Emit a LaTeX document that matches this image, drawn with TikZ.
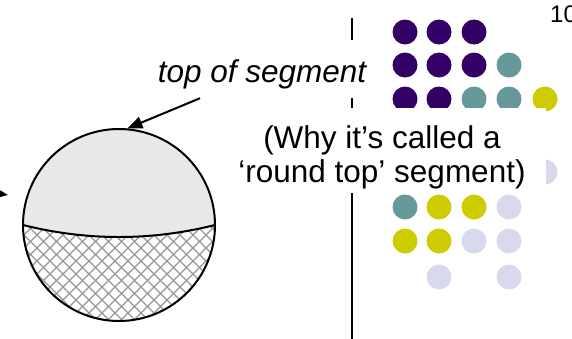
\documentclass[tikz,border=0pt]{standalone}
\usepackage{fontspec}
\setmainfont{Liberation Sans}
\usetikzlibrary{arrows.meta}
\definecolor{pur}{RGB}{51,0,102}
\definecolor{teal2}{RGB}{102,153,153}
\definecolor{yel}{RGB}{204,204,0}
\definecolor{lav}{RGB}{217,217,237}
\definecolor{topgray}{RGB}{232,232,232}
\definecolor{hatchgray}{RGB}{150,150,150}
\tikzset{
  dot/.style={circle, minimum size=25pt, inner sep=0pt, draw=none},
  bigtext/.style={font=\fontsize{31.5}{34}\selectfont},
  pointer/.style={line width=2pt, -{Triangle[length=15pt,width=12pt]}},
  outline/.style={line width=2pt},
  hatch/.style={line width=1.2pt, draw=hatchgray},
}
\begin{document}
\begin{tikzpicture}[x=1pt,y=-1pt]
\useasboundingbox (0,0) rectangle (572,338);
\clip (0,0) rectangle (572,338);
% segment: upper gray part
\fill[topgray] (23,225) arc[start angle=180, end angle=360, radius=96]
   .. controls (151,241) and (87,241) .. (23,225) -- cycle;
% lower cross-hatched part
\begin{scope}
  \clip (23,225) .. controls (87,241) and (151,241) .. (215,225)
     arc[start angle=0, end angle=180, radius=96] -- cycle;
  \foreach \a in {-260,-247,...,260} {
    \draw[hatch] (\a,120) -- ++(230,230);
    \draw[hatch] (\a+230,120) -- ++(-230,230);
  }
\end{scope}
\draw[outline] (23,225) .. controls (87,241) and (151,241) .. (215,225);
\node[circle, draw, outline, minimum size=192pt, inner sep=0pt] (seg) at (119,225) {};
% vertical divider
\coordinate (vt) at (352,18);
\coordinate (vb) at (352,345);
\draw[line width=2pt] (vt) -- (vb);
% dots
\foreach \x/\y/\c/\n in {
  405/32/pur/d11, 439/32/pur/d12, 474/32/pur/d13,
  405/65/pur/d21, 439/65/pur/d22, 474/65/pur/d23, 509/65/teal2/d24,
  405/99/pur/d31, 439/99/pur/d32, 474/99/teal2/d33, 509/99/teal2/d34, 545/99/yel/d35,
  545/172/lav/d55,
  405/207/teal2/d61, 439/207/yel/d62, 474/207/yel/d63, 509/207/lav/d64,
  405/241/yel/d71, 439/241/yel/d72, 474/241/lav/d73, 509/241/lav/d74,
  439/277/lav/d82, 509/277/lav/d84}
  \node[dot, fill=\c] (\n) at (\x,\y) {};
% labels
\node[bigtext, fill=white, anchor=base, text height=42pt, text depth=16pt,
      inner xsep=4pt, inner ysep=0pt] (tos) at (262,82) {\itshape top of segment};
\node[bigtext, fill=white, anchor=north, minimum width=328pt, inner xsep=0pt,
      inner ysep=0pt, align=center] (why) at (382,108)
  {\rule{0pt}{40pt}(Why it’s called a\\‘round top’ segment)\rule[-11pt]{0pt}{11pt}};
\node[font=\fontsize{24}{28}\selectfont, anchor=base west, inner sep=0pt] (pg) at (550,22) {10};
% arrows
\draw[pointer] ([xshift=-62pt]tos.south) -- (seg.85);
\coordinate (la) at (-40,188);
\coordinate (lb) at (8,195);
\draw[pointer] (la) -- (lb);
\end{tikzpicture}
\end{document}
